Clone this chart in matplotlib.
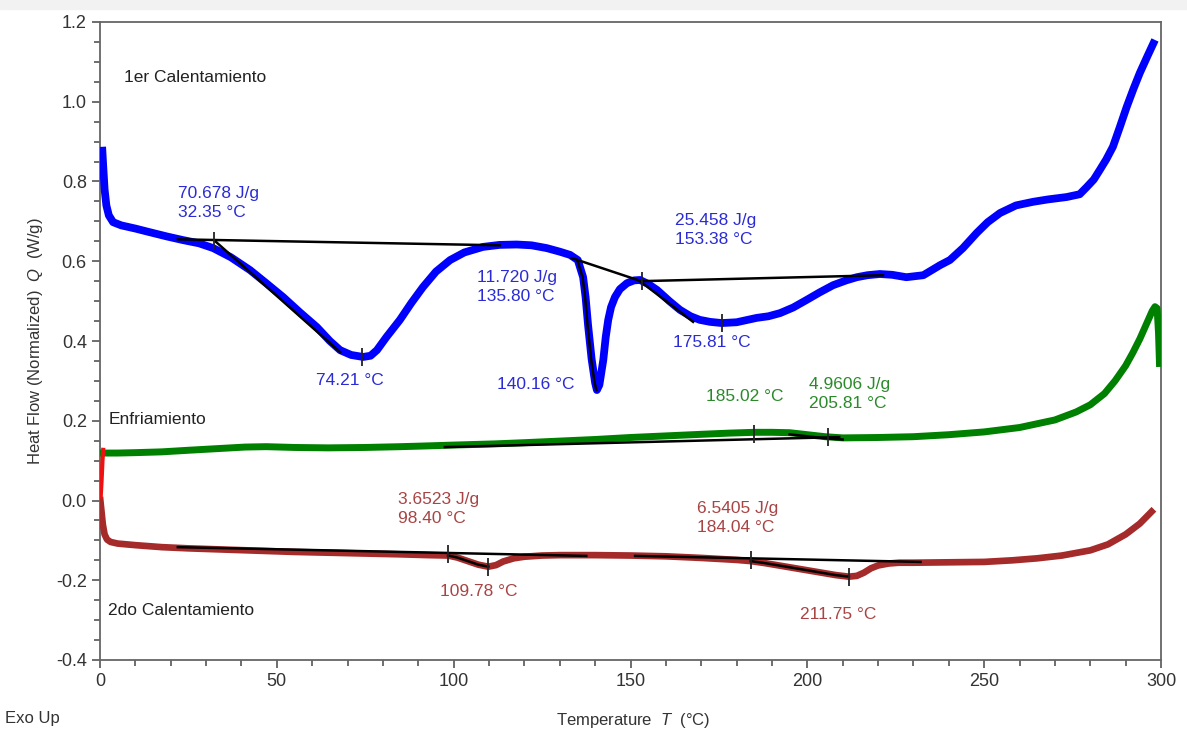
import matplotlib
matplotlib.use("Agg")
import matplotlib.pyplot as plt
import numpy as np

plt.rcParams['font.family'] = ['Liberation Sans', 'DejaVu Sans']
plt.rcParams['axes.unicode_minus'] = False
plt.rcParams['mathtext.fontset'] = 'custom'
plt.rcParams['mathtext.rm'] = 'Liberation Sans'
plt.rcParams['mathtext.it'] = 'Liberation Sans:italic'

# ---------------- data ----------------
heat1_T = [0.6, 0.9, 1.3, 1.8, 2.5, 3.7, 6, 10, 14, 19, 23.5, 28, 32, 37, 42.4, 47, 51.8, 56.5,
           61.3, 65, 67.9, 71, 74.4, 76.5, 78.3, 81, 84.8, 88, 91.3, 95, 99, 103, 108.3, 113,
           117.8, 122, 126.3, 130, 132.9, 135.1, 136.6, 137.3, 138, 139, 140, 140.5, 141.2, 142.3,
           143, 143.7, 144.5, 145.6, 147, 149, 151, 152.7, 155, 157.5, 161, 164, 167, 169.6, 172.5,
           175.8, 180, 185.7, 189, 192.3, 196, 199.8, 203.5, 207.3, 211, 214, 217, 220.5, 224, 228,
           232.8, 237.5, 240.3, 244, 247.9, 251, 254.5, 259, 263.8, 268, 273.3, 277, 279, 281,
           282.7, 284.5, 286.4, 288.3, 290.3, 292.2, 294, 296.2, 298.3]
heat1_Q = [0.887, 0.84, 0.78, 0.74, 0.715, 0.698, 0.690, 0.682, 0.673, 0.662, 0.653, 0.645, 0.633,
           0.610, 0.578, 0.545, 0.510, 0.472, 0.435, 0.400, 0.377, 0.365, 0.360, 0.363, 0.377,
           0.410, 0.453, 0.495, 0.535, 0.574, 0.603, 0.622, 0.636, 0.641, 0.642, 0.640, 0.633,
           0.624, 0.616, 0.603, 0.560, 0.510, 0.440, 0.355, 0.295, 0.277, 0.290, 0.352, 0.410,
           0.453, 0.485, 0.510, 0.530, 0.545, 0.552, 0.553, 0.543, 0.528, 0.500, 0.478, 0.462,
           0.453, 0.448, 0.445, 0.447, 0.458, 0.462, 0.470, 0.484, 0.503, 0.522, 0.540, 0.552,
           0.560, 0.565, 0.568, 0.566, 0.560, 0.565, 0.590, 0.603, 0.633, 0.671, 0.698, 0.721,
           0.740, 0.749, 0.755, 0.761, 0.768, 0.786, 0.805, 0.829, 0.855, 0.887, 0.935, 0.987,
           1.032, 1.072, 1.115, 1.155]

cool_T = [0, 5, 10, 17.5, 25, 33, 41, 47, 55, 64.5, 75, 85, 92.8, 100, 111.7, 120, 130, 140, 150,
          160, 170, 178, 185, 190, 195, 200, 205, 210, 220, 230, 240, 250, 260, 270, 276, 280,
          284, 287, 290, 292, 294, 296, 297.5, 298.3, 298.9, 299.3, 299.6]
cool_Q = [0.119, 0.119, 0.120, 0.122, 0.126, 0.130, 0.134, 0.135, 0.133, 0.132, 0.133, 0.135,
          0.137, 0.139, 0.142, 0.145, 0.149, 0.153, 0.158, 0.162, 0.166, 0.169, 0.171, 0.171,
          0.170, 0.165, 0.160, 0.157, 0.158, 0.160, 0.165, 0.172, 0.183, 0.202, 0.222, 0.240,
          0.268, 0.300, 0.338, 0.370, 0.405, 0.445, 0.475, 0.486, 0.482, 0.42, 0.335]

heat2_start_T = [0.9, 0.7, 0.45, 0.2]
heat2_start_Q = [0.127, 0.10, 0.05, 0.01]

heat2_T = [0, 0.4, 0.8, 1.3, 2.0, 3.0, 5, 10, 17.5, 25, 35, 45, 55, 65, 75, 85, 92.8, 98.4, 101,
           104, 107, 109.8, 112, 114, 117, 120, 125, 130, 140, 150, 160, 170, 180, 184, 188, 192,
           196, 200, 204, 208, 211.75, 214, 216, 218, 220, 223, 226, 230, 240, 250, 258, 265,
           272, 280, 285, 290, 294, 298]
heat2_Q = [0.009, -0.025, -0.06, -0.085, -0.098, -0.104, -0.108, -0.112, -0.117, -0.120, -0.123,
           -0.126, -0.129, -0.131, -0.133, -0.135, -0.137, -0.138, -0.143, -0.152, -0.161,
           -0.166, -0.162, -0.153, -0.145, -0.141, -0.138, -0.137, -0.137, -0.138, -0.140,
           -0.144, -0.149, -0.152, -0.157, -0.163, -0.169, -0.175, -0.181, -0.187, -0.191,
           -0.189, -0.181, -0.170, -0.163, -0.158, -0.156, -0.156, -0.155, -0.154, -0.150,
           -0.145, -0.138, -0.125, -0.110, -0.085, -0.058, -0.022]

# baselines (T pairs, Q pairs)
base1a_T, base1a_Q = [22, 113], [0.655, 0.640]
tan1a_T, tan1a_Q = [32.35, 67.9], [0.652, 0.372]
base1b_T, base1b_Q = [133.4, 152.7], [0.608, 0.551]
base1c_T, base1c_Q = [152.7, 221.4], [0.550, 0.565]
tan1c_T, tan1c_Q = [152.7, 167.7], [0.550, 0.448]
base_c_T, base_c_Q = [97.5, 209], [0.134, 0.159]
base2a_T, base2a_Q = [22, 137.5], [-0.117, -0.139]
base2b_T, base2b_Q = [151.3, 232], [-0.139, -0.154]

# marker ticks (T, Q)
mark1_T = [32.35, 74.21, 153.38, 175.81]
mark1_Q = [0.652, 0.360, 0.551, 0.445]
markc_T = [185.02, 205.81]
markc_Q = [0.168, 0.158]
mark2_T = [98.40, 109.78, 184.04, 211.75]
mark2_Q = [-0.135, -0.166, -0.148, -0.192]

blue = '#0000ff'
green = '#008000'
dred = '#a52a2a'
blue_t = '#2b2bd6'
green_t = '#2a8a2a'
red_t = '#a84444'

fig = plt.figure(figsize=(11.87, 7.34), dpi=100)
fig.patches.append(plt.Rectangle((0, 0.988), 1, 0.012, transform=fig.transFigure,
                                 color='#f2f2f2', zorder=0))
ax = fig.add_axes([100/1187, 1-660/734, 1061/1187, 638/734])

ax.plot(heat1_T, heat1_Q, color=blue, lw=5.6, solid_capstyle='butt',
        solid_joinstyle='round', zorder=3)
ax.plot(cool_T, cool_Q, color=green, lw=5.0, solid_capstyle='butt',
        solid_joinstyle='round', zorder=3)
ax.plot(heat2_T, heat2_Q, color=dred, lw=4.8, solid_capstyle='butt',
        solid_joinstyle='round', zorder=3)
ax.plot(heat2_start_T, heat2_start_Q, color='#ee1111', lw=3.0, zorder=3.5)

bk = dict(color='black', lw=1.8, zorder=5)
for tx, qy in [(base1a_T, base1a_Q), (tan1a_T, tan1a_Q), (base1b_T, base1b_Q),
               (base1c_T, base1c_Q), (tan1c_T, tan1c_Q), (base_c_T, base_c_Q),
               (base2a_T, base2a_Q), (base2b_T, base2b_Q)]:
    ax.plot(tx, qy, **bk)

# black overlays along curves
h1T = np.array(heat1_T); h1Q = np.array(heat1_Q)
m = (h1T >= 135.1) & (h1T <= 140.5)
ax.plot(h1T[m] - 0.15, h1Q[m], color='black', lw=1.8, zorder=5)
cT = np.array(cool_T); cQ = np.array(cool_Q)
m = (cT >= 195) & (cT <= 210)
ax.plot(cT[m], cQ[m] - 0.004, color='black', lw=1.8, zorder=5)
h2T = np.array(heat2_T); h2Q = np.array(heat2_Q)
for lo, hi in [(98.4, 109.8), (184, 211.75)]:
    m = (h2T >= lo) & (h2T <= hi)
    ax.plot(h2T[m], h2Q[m], color='black', lw=1.8, zorder=5)

mk = dict(ls='none', marker='|', markersize=13, markeredgewidth=1.3, color='#222222', zorder=6)
ax.plot(mark1_T, mark1_Q, **mk)
ax.plot(markc_T, markc_Q, **mk)
ax.plot(mark2_T, mark2_Q, **mk)

fs = 12.5
ax.text(6.8, 1.062, '1er Calentamiento', fontsize=fs, color='#222222', va='center')
ax.text(2.3, 0.204, 'Enfriamiento', fontsize=fs, color='#222222', va='center')
ax.text(2.3, -0.277, '2do Calentamiento', fontsize=fs, color='#222222', va='center')

def ann(x, y, s, c):
    ax.text(x, y, s, fontsize=fs, color=c, va='center', linespacing=1.3)

ann(22, 0.746, '70.678 J/g\n32.35 °C', blue_t)
ann(61, 0.300, '74.21 °C', blue_t)
ann(106.6, 0.535, '11.720 J/g\n135.80 °C', blue_t)
ann(112.2, 0.292, '140.16 °C', blue_t)
ann(162.6, 0.678, '25.458 J/g\n153.38 °C', blue_t)
ann(162, 0.395, '175.81 °C', blue_t)
ann(171.3, 0.262, '185.02 °C', green_t)
ann(200.5, 0.267, '4.9606 J/g\n205.81 °C', green_t)
ann(84.3, -0.021, '3.6523 J/g\n98.40 °C', red_t)
ann(96.1, -0.229, '109.78 °C', red_t)
ann(168.8, -0.044, '6.5405 J/g\n184.04 °C', red_t)
ann(198, -0.287, '211.75 °C', red_t)

ax.set_xlim(0, 300)
ax.set_ylim(-0.4, 1.2)
ax.set_xticks(np.arange(0, 301, 50))
ax.set_xticks(np.arange(0, 301, 10), minor=True)
ax.set_yticks(np.arange(-0.4, 1.21, 0.2))
ax.set_yticks(np.arange(-0.4, 1.21, 0.05), minor=True)
ax.yaxis.set_major_formatter(matplotlib.ticker.FormatStrFormatter('%.1f'))
ax.tick_params(which='both', direction='out', colors='#555555', labelcolor='#333333',
               labelsize=13, width=1.2)
ax.tick_params(which='major', length=6)
ax.tick_params(which='minor', length=4)
for s in ax.spines.values():
    s.set_color('#666666')
    s.set_linewidth(1.3)

ax.set_ylabel('Heat Flow (Normalized)  $\\it{Q}$  (W/g)', fontsize=12, color='#333333', labelpad=8)
fig.text(633/1187, 1-721/734, 'Temperature  $\\it{T}$  (°C)', fontsize=12, color='#333333',
         ha='center', va='center')
fig.text(5/1187, 1-718/734, 'Exo Up', fontsize=12, color='#333333', ha='left', va='center')

fig.savefig('out.png', dpi=100)
